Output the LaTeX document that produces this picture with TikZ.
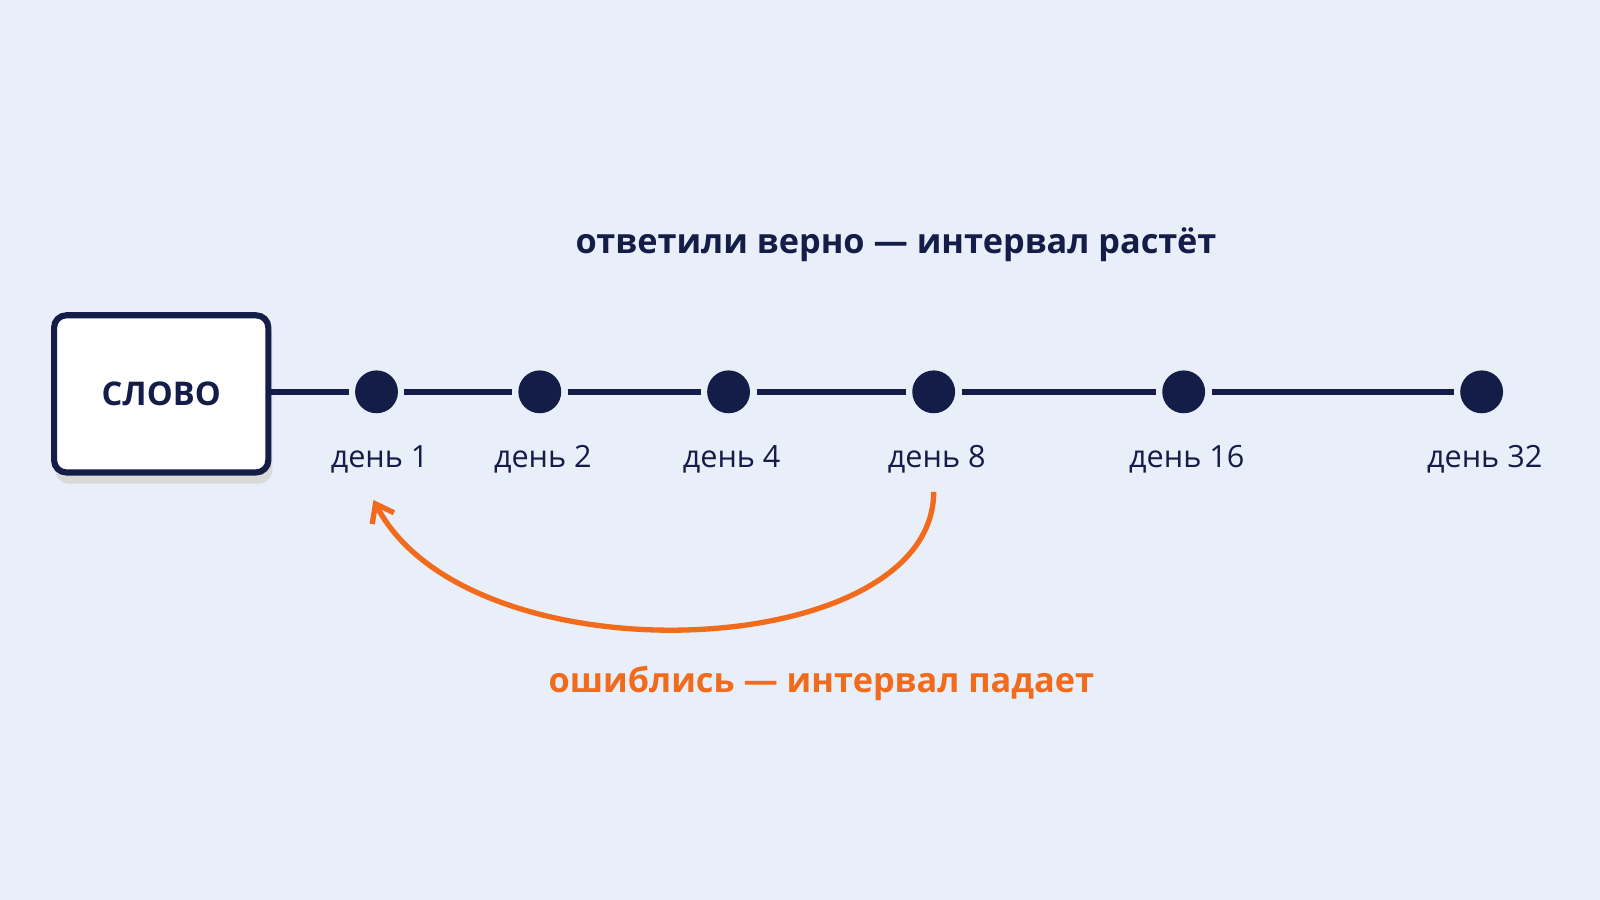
\documentclass[tikz,border=0pt]{standalone}
\usepackage{fontspec}
\setmainfont{Open Sans}[BoldFont={Open Sans Bold}]
\usetikzlibrary{arrows.meta,shadows}
\definecolor{bg}{HTML}{E8EFF8}
\definecolor{navy}{HTML}{141C48}
\definecolor{org}{HTML}{F26B1D}
\begin{document}
\begin{tikzpicture}[x=0.5pt,y=-0.5pt,
  dot/.style={circle,fill=navy,minimum size=21pt,inner sep=0pt},
  lbl/.style={text=navy,font=\fontsize{15}{18}\selectfont},
  seg/.style={navy,line width=3pt,shorten <=3pt,shorten >=3pt}]
\fill[bg] (0,0) rectangle (1568,882);
\useasboundingbox (0,0) rectangle (1568,882);
\fill[black!15,rounded corners=7pt] (54,316) rectangle (267,474);
\node[draw=navy,line width=3pt,fill=white,rounded corners=6pt,minimum width=105pt,minimum height=77pt,inner sep=0pt,font=\bfseries\fontsize{16}{19}\selectfont,text=navy] (w) at (158,386) {СЛОВО};
\foreach \n/\x/\d in {a/369/1,b/529/2,c/714/4,d/915/8,e/1160/16,f/1452/32}{
  \node[dot] (\n) at (\x,384) {};
  \node[lbl] (l\n) at (\x+3,450) {день \d};
}
\draw[seg,shorten <=0pt] (w.east|-a) -- (a);
\draw[seg] (a) -- (b);
\draw[seg] (b) -- (c);
\draw[seg] (c) -- (d);
\draw[seg] (d) -- (e);
\draw[seg] (e) -- (f);
\node[text=navy,font=\bfseries\fontsize{16.8}{20}\selectfont] (t) at (878,240) {ответили верно — интервал растёт};
\node[text=org,font=\bfseries\fontsize{16.8}{20}\selectfont] (o) at (805,670) {ошиблись — интервал падает};
\coordinate (s) at (915,482);
\coordinate (e2) at (366,490);
\draw[org,line width=2.6pt,-{Straight Barb[length=8pt,width=12pt]}] (s) .. controls (915,650) and (460,670) .. (e2);
\end{tikzpicture}
\end{document}
